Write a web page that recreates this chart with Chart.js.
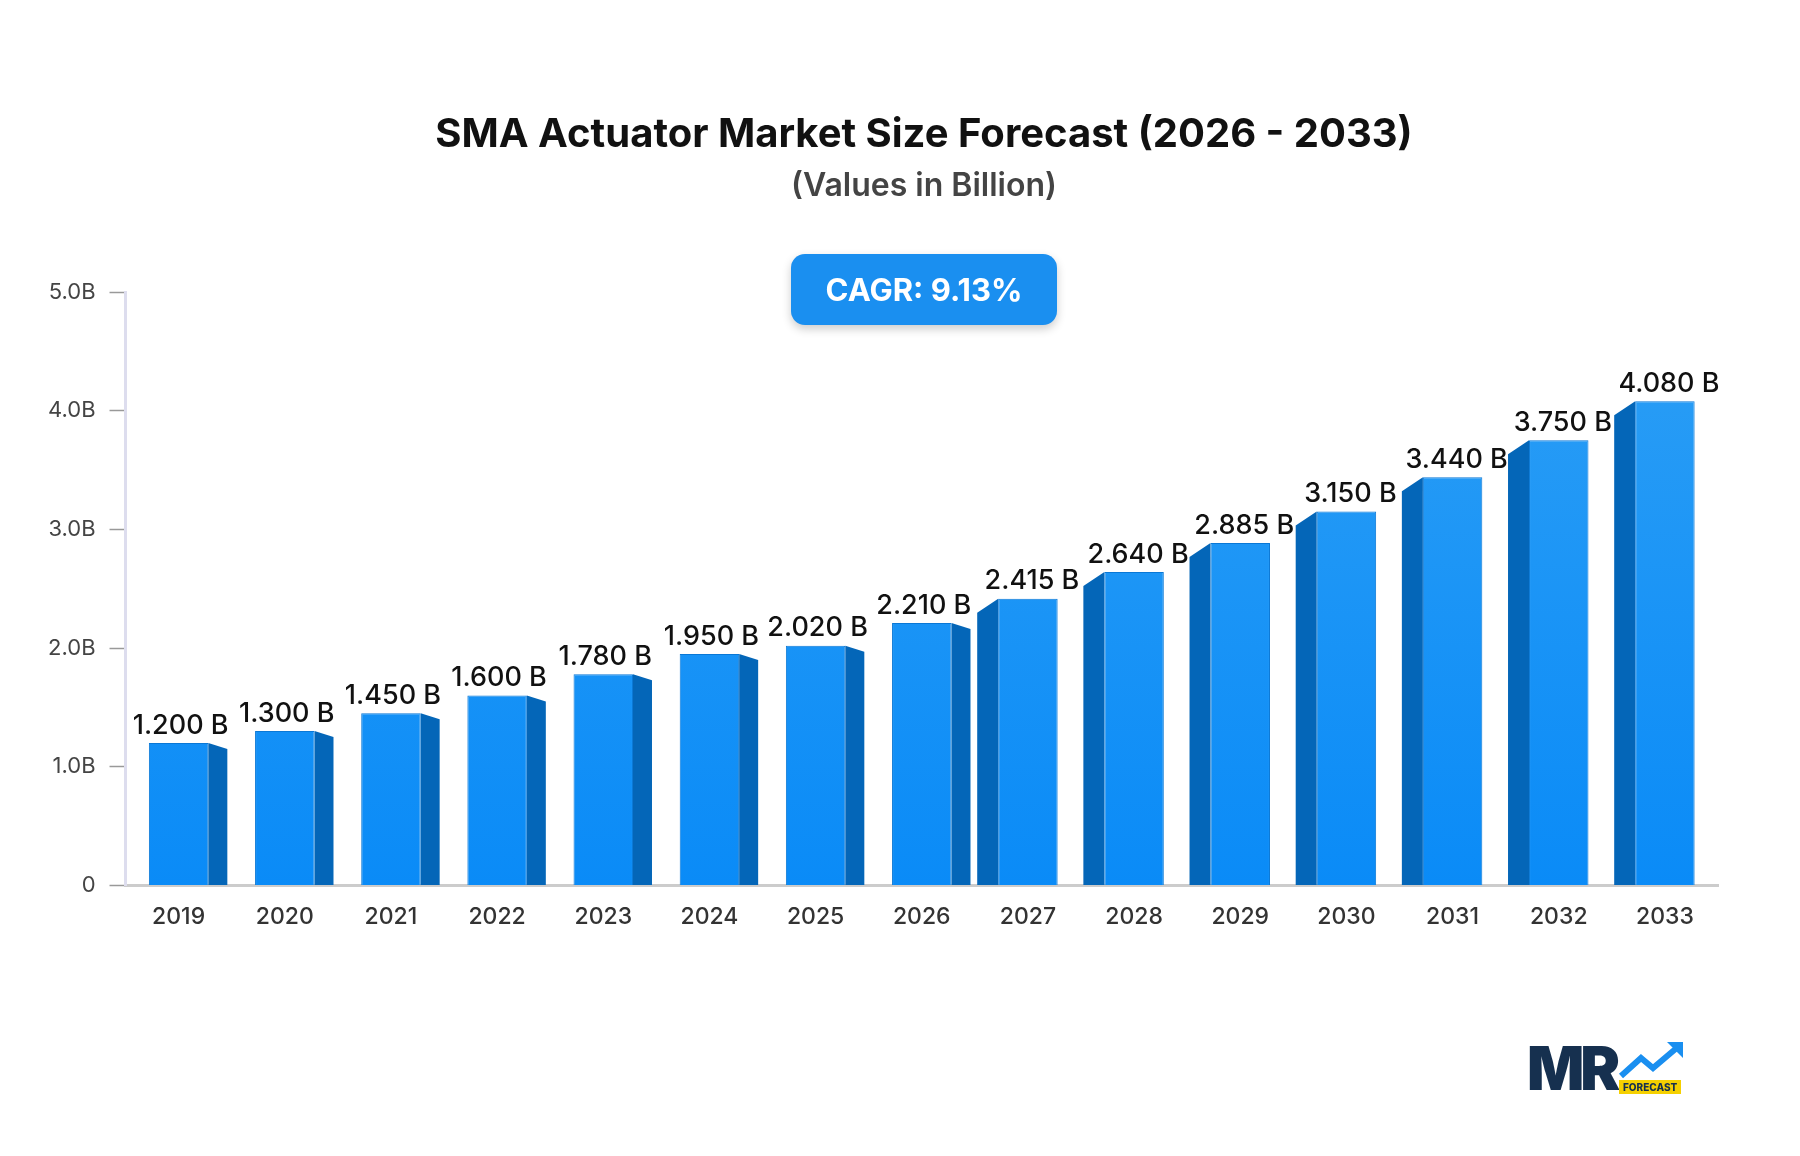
<!DOCTYPE html>
<html><head><meta charset="utf-8">
<script src="https://cdn.jsdelivr.net/npm/chart.js@4/dist/chart.umd.min.js"></script>
<style>
body{margin:0;background:#fff;font-family:Inter,"Noto Sans",sans-serif;}
#wrap{position:relative;width:1800px;height:1156px;overflow:hidden;}
#c{position:absolute;left:0;top:0;}
.t{position:absolute;left:0;width:1848px;text-align:center;}
#title{top:108px;font-size:40px;font-weight:700;color:#111;}
#sub{top:165px;font-size:32px;font-weight:600;color:#444;}
#badge{position:absolute;left:791px;top:254px;width:266px;height:71px;border-radius:14px;background:#1a8ff0;color:#fff;font-size:31px;font-weight:700;display:flex;align-items:center;justify-content:center;box-shadow:0 4px 10px rgba(0,0,0,.2);}
#logo{position:absolute;left:1527px;top:1036px;width:160px;height:64px;}
</style></head><body>
<div id="wrap">
<canvas id="c" width="1800" height="1156"></canvas>
<div class="t" id="title">SMA Actuator Market Size Forecast (2026 - 2033)</div>
<div class="t" id="sub">(Values in Billion)</div>
<div id="badge">CAGR: 9.13%</div>
<div id="logo">
<div style="position:absolute;left:0;top:0;font-size:60px;font-weight:900;color:#16304f;letter-spacing:-4px;line-height:64px;">MR</div>
<div style="position:absolute;left:92px;top:44px;background:#f5d000;color:#16304f;font-size:10px;font-weight:800;padding:1px 4px;">FORECAST</div>
<svg style="position:absolute;left:90px;top:4px" width="70" height="40"><polyline points="4,36 24,18 36,28 62,6" fill="none" stroke="#1a8ff0" stroke-width="6"/><polygon points="50,2 66,2 66,18" fill="#1a8ff0"/></svg>
</div>
</div>
<script>
const categories=["2019","2020","2021","2022","2023","2024","2025","2026","2027","2028","2029","2030","2031","2032","2033"];
const values=[1.2,1.3,1.45,1.6,1.78,1.95,2.02,2.21,2.415,2.64,2.885,3.15,3.44,3.75,4.08];
const yTicks=[0,1,2,3,4,5];
const ctx=document.getElementById('c').getContext('2d');
const side={id:'side',beforeDatasetsDraw(ch){
 const c=ch.ctx;const m=ch.getDatasetMeta(0);
 m.data.forEach((b,i)=>{
  const w=b.width,l=b.x-w/2,r=b.x+w/2,top=b.y,bot=b.base;
  c.fillStyle='#0466b8';c.beginPath();
  if(i<8){c.moveTo(r,top);c.lineTo(r+19,top+6);c.lineTo(r+19,bot);c.lineTo(r,bot);}
  else{c.moveTo(l,top);c.lineTo(l-21,top+14);c.lineTo(l-21,bot);c.lineTo(l,bot);}
  c.closePath();c.fill();
 });
},afterDatasetsDraw(ch){
 const c=ch.ctx;const m=ch.getDatasetMeta(0);
 c.font='500 27px Inter';c.fillStyle='#111';c.textAlign='center';c.textBaseline='bottom';
 m.data.forEach((b,i)=>{c.fillText(values[i].toFixed(3)+' B',b.x+(i<8?2:4),b.y-4);});
}};
new Chart(ctx,{type:'bar',
data:{labels:categories,datasets:[{data:values,
 backgroundColor:(cx)=>{const a=cx.chart.chartArea;if(!a)return '#1a8ff0';const g=cx.chart.ctx.createLinearGradient(0,a.top,0,a.bottom);g.addColorStop(0,'#2d9ff5');g.addColorStop(1,'#0a8bf7');return g;},
 borderColor:'#0a78d6',borderWidth:1,barPercentage:0.56,categoryPercentage:1}]},
plugins:[side],
options:{responsive:false,animation:false,
 layout:{padding:{top:292,left:34,right:82,bottom:215}},
 plugins:{legend:{display:false},tooltip:{enabled:false}},
 scales:{
  x:{grid:{display:false},border:{color:'#ccc',width:3},ticks:{color:'#333',font:{size:23,family:'Inter',weight:500},padding:10}},
  y:{min:0,max:5,afterBuildTicks:(s)=>{s.ticks=yTicks.map(v=>({value:v}));},
   grid:{drawOnChartArea:false,drawTicks:true,tickLength:16,tickColor:'#999',tickWidth:1.5},border:{color:'#dde',width:3},
   ticks:{color:'#444',font:{size:22,family:'Inter'},padding:14,callback:v=>v===0?'0':v.toFixed(1)+'B'}}
 }}});
</script>
</body></html>
